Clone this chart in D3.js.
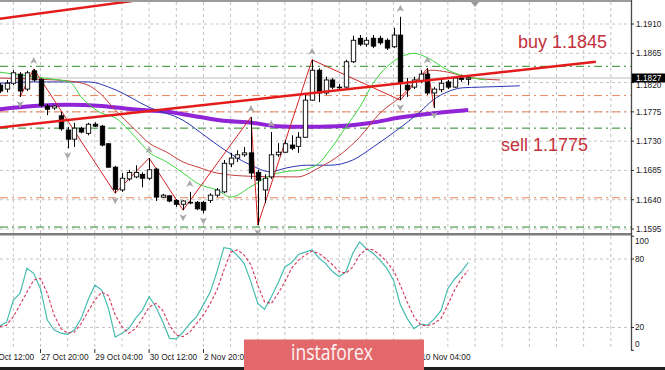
<!DOCTYPE html>
<html>
<head>
<meta charset="utf-8">
<script src="https://cdn.jsdelivr.net/npm/d3@7"></script>
<style>
  body { margin: 0; background: #fff; }
  svg { display: block; font-family: "Liberation Sans", Arial, sans-serif; }
</style>
</head>
<body>
<script>
// H4 bars, bar 0 = 27 Oct 20:00
const FIRST_BAR = -6;

const candleOpen = [1.1816, 1.1810, 1.1819, 1.1833, 1.1810, 1.1838, 1.1825, 1.1784, 1.1781, 1.1769,
  1.1747, 1.1733, 1.1750, 1.1742, 1.1756, 1.1753, 1.1726, 1.1690, 1.1655, 1.1672,
  1.1675, 1.1679, 1.1673, 1.1687, 1.1644, 1.1646, 1.1639, 1.1633, 1.1636, 1.1636,
  1.1636, 1.1639, 1.1647, 1.1652, 1.1695, 1.1704, 1.1709, 1.1712, 1.1682, 1.1655,
  1.1675, 1.1709, 1.1713, 1.1724, 1.1722, 1.1736, 1.1793, 1.1839, 1.1804, 1.1824,
  1.1812, 1.1813, 1.1852, 1.1888, 1.1879, 1.1888, 1.1888, 1.1885, 1.1875, 1.1893,
  1.1816, 1.1813, 1.1822, 1.1833, 1.1804, 1.1809, 1.1821, 1.1813, 1.1827, 1.1825];
const candleHigh = [1.1819, 1.1824, 1.1839, 1.1836, 1.1838, 1.1841, 1.1827, 1.1787, 1.1785, 1.1775,
  1.1752, 1.1758, 1.1752, 1.1758, 1.1759, 1.1755, 1.1727, 1.1692, 1.1681, 1.1686,
  1.1693, 1.1682, 1.1704, 1.1689, 1.1649, 1.1647, 1.1641, 1.1639, 1.1652, 1.1638,
  1.1638, 1.1650, 1.1658, 1.1701, 1.1712, 1.1716, 1.1721, 1.1767, 1.1686, 1.1679,
  1.1744, 1.1727, 1.1732, 1.1739, 1.1744, 1.1801, 1.1855, 1.1842, 1.1829, 1.1827,
  1.1818, 1.1855, 1.1892, 1.1893, 1.1890, 1.1893, 1.1892, 1.1888, 1.1904, 1.1921,
  1.1827, 1.1829, 1.1839, 1.1842, 1.1813, 1.1824, 1.1824, 1.1829, 1.1832, 1.1829];
const candleLow = [1.1804, 1.1805, 1.1816, 1.1798, 1.1807, 1.1821, 1.1782, 1.1770, 1.1778, 1.1746,
  1.1719, 1.1721, 1.1742, 1.1739, 1.1752, 1.1722, 1.1689, 1.1650, 1.1652, 1.1669,
  1.1673, 1.1659, 1.1670, 1.1638, 1.1643, 1.1636, 1.1629, 1.1624, 1.1633, 1.1624,
  1.1619, 1.1635, 1.1644, 1.1650, 1.1690, 1.1698, 1.1706, 1.1672, 1.1601, 1.1635,
  1.1672, 1.1706, 1.1712, 1.1716, 1.1712, 1.1735, 1.1792, 1.1790, 1.1801, 1.1810,
  1.1809, 1.1812, 1.1850, 1.1876, 1.1875, 1.1873, 1.1878, 1.1870, 1.1873, 1.1793,
  1.1798, 1.1810, 1.1819, 1.1801, 1.1781, 1.1805, 1.1810, 1.1812, 1.1821, 1.1816];
const candleClose = [1.1807, 1.1819, 1.1835, 1.1807, 1.1835, 1.1824, 1.1785, 1.1779, 1.1784, 1.1749,
  1.1733, 1.1750, 1.1744, 1.1756, 1.1753, 1.1724, 1.1690, 1.1656, 1.1673, 1.1682,
  1.1682, 1.1673, 1.1686, 1.1644, 1.1647, 1.1638, 1.1633, 1.1638, 1.1635, 1.1626,
  1.1624, 1.1647, 1.1655, 1.1696, 1.1704, 1.1709, 1.1712, 1.1681, 1.1670, 1.1673,
  1.1709, 1.1713, 1.1726, 1.1719, 1.1736, 1.1793, 1.1839, 1.1804, 1.1824, 1.1813,
  1.1813, 1.1852, 1.1885, 1.1879, 1.1885, 1.1876, 1.1881, 1.1873, 1.1893, 1.1819,
  1.1809, 1.1824, 1.1833, 1.1804, 1.1810, 1.1819, 1.1813, 1.1827, 1.1825, 1.1827];

// moving averages as [bar, price]
const maGreen = [[-6, 1.1836], [-1, 1.1829], [2, 1.1825], [4.3, 1.1821], [6, 1.1798], [9, 1.1773],
  [11, 1.1766], [13, 1.1747], [15, 1.1724], [16, 1.1713], [18.6, 1.1698], [21, 1.1681],
  [23.5, 1.1663], [26, 1.1655], [28, 1.1644], [31, 1.1660], [34, 1.1678], [36, 1.1683],
  [38.7, 1.1686], [41, 1.1696], [42.6, 1.1716], [45, 1.1752], [47, 1.1782], [49, 1.1819],
  [51, 1.1844], [53, 1.1859], [55, 1.1865], [57, 1.1858], [60, 1.1839], [63.7, 1.1827], [65.7, 1.1824]];
const maRed = [[-6, 1.1827], [0, 1.1825], [4.5, 1.1822], [7, 1.1816], [8.7, 1.1804], [11, 1.1778],
  [13.7, 1.1750], [16, 1.1727], [18.6, 1.1713], [21, 1.1698], [23.5, 1.1689], [26, 1.1681],
  [31, 1.1676], [37.8, 1.1675], [41, 1.1689], [44.5, 1.1712], [47, 1.1736], [50, 1.1773],
  [53, 1.1798], [55.5, 1.1824], [57.5, 1.1839], [60, 1.1836], [63, 1.1828], [67.7, 1.1824]];
const maBlue = [[-6, 1.1819], [-1, 1.1821], [7, 1.1821], [11, 1.1809], [16, 1.1782], [21, 1.1762],
  [24.5, 1.1736], [26.5, 1.1721], [31, 1.1693], [33.8, 1.1683], [36.3, 1.1689], [39.2, 1.1693],
  [42.6, 1.1693], [46, 1.1701], [49, 1.1721], [52.5, 1.1747], [55.9, 1.1775], [57.8, 1.1793],
  [60, 1.1806], [62.2, 1.1812], [64.7, 1.1813], [70.6, 1.1815]];
const maPurple = [[-6, 1.1779], [-1, 1.1784], [4, 1.1786], [9, 1.1784], [13.6, 1.1779], [18.6, 1.1775],
  [23.5, 1.1767], [26.4, 1.1762], [31.3, 1.1758], [34.8, 1.1753], [38.7, 1.1752], [43.7, 1.1753],
  [48.5, 1.1758], [53.4, 1.1767], [58, 1.1773], [63, 1.1778]];

const zigzag = [[-3, 1.1798], [-1, 1.1841], [11, 1.1650], [16, 1.1704], [21, 1.1624], [31, 1.1767],
  [32, 1.1601], [40, 1.1855], [53, 1.1793], [57, 1.1842], [58, 1.1781]];

const trendLines = [
  [[-6, 1.1918], [14, 1.1946]],
  [[-6, 1.1751], [81.8, 1.1852]]
];

const fractalUp = [-1, 16, 22, 31, 34, 40, 53, 57];
const fractalDown = [-3, 4, 11, 21, 24, 32, 53, 58];

const greenLevels = [1.1845, 1.1750, 1.1598];
const orangeLevels = [1.1800, 1.1775, 1.1643];
const currentPrice = 1.1827;

const stochMain = [21.5, 24.5, 44, 50, 72, 67.5, 54, 26.5, 18, 15,
  14, 18, 28, 44, 57, 53, 37, 11.5, 15, 19,
  28, 35, 47, 38, 25, 10.5, 10, 16, 23.5, 29.5,
  40, 51, 69, 90, 89, 83, 76, 60, 41, 36,
  47, 59, 73, 77, 84, 86, 88, 81, 76, 69,
  64.5, 69, 85, 95, 89, 85, 79, 72, 61.5, 40,
  28, 19, 23, 22, 27.5, 35, 54, 62.5, 69, 77];
const stochSignal = [20.7, 22, 29.5, 40, 51, 61.5, 63, 50, 31, 19,
  15, 16, 23.5, 34, 44, 51, 48, 31, 20.7, 15,
  19, 28, 38, 41, 35, 22, 13.4, 12, 16, 23.5,
  31, 41, 53, 70, 86, 88, 83.5, 75, 57, 42.5,
  41, 50, 60, 72, 79, 83.5, 87, 85, 80.5, 75,
  69, 67.5, 73, 83.5, 88.7, 88, 83.5, 77.6, 70, 57,
  42.5, 29.5, 22, 21.5, 23.5, 28, 40, 53, 63, 70];

const priceTicks = [1.1595, 1.1640, 1.1685, 1.1730, 1.1775, 1.1820, 1.1865, 1.1910];
const stochTicks = [100, 80, 20, 0];
const stochGrid = [80, 20];
const timeTickBars = [-8, 0, 8, 16, 24, 32, 40, 48, 56];
const timeLabels = ["26 Oct 12:00", "27 Oct 20:00", "29 Oct 04:00", "30 Oct 12:00", "2 Nov 20:00",
  "4 Nov 04:00", "5 Nov 12:00", "6 Nov 20:00", "10 Nov 04:00"];
const noteLabels = ["buy 1.1845", "sell 1.1775"];

let WIDTH = 665,
    HEIGHT = 370;

let plot = { left: 0, right: 631, top: 2, mainBottom: 233, stochTop: 236, stochBottom: 350 };
let logo = { x: 244, y: 339.5, w: 180, h: 31 };

let svg = d3.select("body").append("svg")
  .attr("width", WIDTH)
  .attr("height", HEIGHT);

svg.append("rect")
  .attr("width", WIDTH)
  .attr("height", HEIGHT)
  .attr("fill", "#fff");

let x = d3.scaleLinear().domain([0, 56]).range([40.5, 420.7]);
let y = d3.scaleLinear().domain([1.1595, 1.1910]).range([229, 24]);
let yS = d3.scaleLinear().domain([0, 100]).range([350.3, 236.2]);

let bars = d3.range(FIRST_BAR, FIRST_BAR + candleOpen.length);
let candles = bars.map((b, k) => ({
  bar: b, o: candleOpen[k], h: candleHigh[k], l: candleLow[k], c: candleClose[k]
}));

let defs = svg.append("defs");
defs.append("clipPath").attr("id", "clipMain")
  .append("rect")
  .attr("x", plot.left).attr("y", plot.top)
  .attr("width", plot.right - plot.left).attr("height", plot.mainBottom - plot.top);
defs.append("clipPath").attr("id", "clipStoch")
  .append("rect")
  .attr("x", plot.left).attr("y", plot.stochTop)
  .attr("width", plot.right - plot.left).attr("height", plot.stochBottom - plot.stochTop);

let main = svg.append("g").attr("clip-path", "url(#clipMain)");
let stoch = svg.append("g").attr("clip-path", "url(#clipStoch)");

/*
  Grid
*/
let gridBars = d3.range(-4, 90, 4).filter(b => x(b) < plot.right);

[[main, plot.top, plot.mainBottom], [stoch, plot.stochTop, plot.stochBottom]].forEach(([g, y0, y1]) => {
  g.selectAll(".vgrid")
    .data(gridBars)
  .enter().append("line")
    .attr("class", "vgrid")
    .attr("x1", d => x(d)).attr("x2", d => x(d))
    .attr("y1", y0).attr("y2", y1)
    .attr("stroke", "#c4c4c4")
    .attr("stroke-dasharray", "3,3");
});

main.selectAll(".hgrid")
  .data(priceTicks)
.enter().append("line")
  .attr("class", "hgrid")
  .attr("x1", plot.left).attr("x2", plot.right)
  .attr("y1", d => y(d)).attr("y2", d => y(d))
  .attr("stroke", "#c4c4c4")
  .attr("stroke-dasharray", "3,3");

stoch.selectAll(".sgrid")
  .data(stochGrid)
.enter().append("line")
  .attr("class", "sgrid")
  .attr("x1", plot.left).attr("x2", plot.right)
  .attr("y1", d => yS(d)).attr("y2", d => yS(d))
  .attr("stroke", "#c4c4c4")
  .attr("stroke-dasharray", "3,3");

// support / resistance levels
main.selectAll(".glevel")
  .data(greenLevels)
.enter().append("line")
  .attr("x1", plot.left).attr("x2", plot.right)
  .attr("y1", d => y(d)).attr("y2", d => y(d))
  .attr("stroke", "#2a8a2a")
  .attr("stroke-dasharray", "8,4,2,4");

main.selectAll(".olevel")
  .data(orangeLevels)
.enter().append("line")
  .attr("x1", plot.left).attr("x2", plot.right)
  .attr("y1", d => y(d)).attr("y2", d => y(d))
  .attr("stroke", "#e8845a")
  .attr("stroke-dasharray", "8,4,2,4");

main.append("line")
  .attr("x1", plot.left).attr("x2", plot.right)
  .attr("y1", y(currentPrice)).attr("y2", y(currentPrice))
  .attr("stroke", "#bdbdbd");

/*
  Moving averages
*/
let maLine = d3.line()
  .x(d => x(d[0]))
  .y(d => y(d[1]))
  .curve(d3.curveMonotoneX);

main.append("path").datum(maPurple)
  .attr("d", maLine).attr("fill", "none")
  .attr("stroke", "#9024d6").attr("stroke-width", 4);
main.append("path").datum(maBlue)
  .attr("d", maLine).attr("fill", "none")
  .attr("stroke", "#2a35b0").attr("stroke-width", 1);
main.append("path").datum(maRed)
  .attr("d", maLine).attr("fill", "none")
  .attr("stroke", "#c83c3c").attr("stroke-width", 1);
main.append("path").datum(maGreen)
  .attr("d", maLine).attr("fill", "none")
  .attr("stroke", "#3cd63c").attr("stroke-width", 1);

main.append("path").datum(zigzag)
  .attr("d", d3.line().x(d => x(d[0])).y(d => y(d[1])))
  .attr("fill", "none")
  .attr("stroke", "#d42424").attr("stroke-width", 1);

/*
  Candles
*/
let bodyW = 4.4;

let cg = main.selectAll(".candle")
  .data(candles)
.enter().append("g")
  .attr("class", "candle");

cg.append("line")
  .attr("x1", d => Math.round(x(d.bar)) + 0.5).attr("x2", d => Math.round(x(d.bar)) + 0.5)
  .attr("y1", d => y(d.h)).attr("y2", d => y(d.l))
  .attr("stroke", "#000");

cg.append("rect")
  .attr("x", d => Math.round(x(d.bar)) + 0.5 - bodyW / 2)
  .attr("y", d => y(Math.max(d.o, d.c)))
  .attr("width", bodyW)
  .attr("height", d => Math.max(0.6, Math.abs(y(d.o) - y(d.c))))
  .attr("fill", d => d.c >= d.o ? "#fff" : "#000")
  .attr("stroke", "#000")
  .attr("stroke-width", 0.9);

// fractal arrows
let arrowUp = "M0,-4 L3.6,3 L0,1.2 L-3.6,3 Z";
let arrowDown = "M0,4 L3.6,-3 L0,-1.2 L-3.6,-3 Z";

main.selectAll(".fup")
  .data(fractalUp)
.enter().append("path")
  .attr("d", arrowUp)
  .attr("transform", b => "translate(" + x(b) + "," + (y(candleHigh[b - FIRST_BAR]) - 8) + ")")
  .attr("fill", "#a9a9a9");

main.selectAll(".fdown")
  .data(fractalDown)
.enter().append("path")
  .attr("d", arrowDown)
  .attr("transform", b => "translate(" + x(b) + "," + (y(candleLow[b - FIRST_BAR]) + 7) + ")")
  .attr("fill", "#a9a9a9");

// trend lines on top
main.selectAll(".trend")
  .data(trendLines)
.enter().append("line")
  .attr("x1", d => x(d[0][0])).attr("y1", d => y(d[0][1]))
  .attr("x2", d => x(d[1][0])).attr("y2", d => y(d[1][1]))
  .attr("stroke", "#e31b1b")
  .attr("stroke-width", 2.4);

// chart shift marker
svg.append("path")
  .attr("d", "M-4,2 L4,2 L0,7 Z")
  .attr("transform", "translate(" + x(FIRST_BAR + candleOpen.length) + ",0)")
  .attr("fill", "#9a9a9a");

/*
  Stochastic
*/
let stLine = d3.line()
  .x((d, i) => x(FIRST_BAR + i))
  .y(d => yS(d));

stoch.append("path").datum(stochMain)
  .attr("d", stLine).attr("fill", "none")
  .attr("stroke", "#46bdb0").attr("stroke-width", 1.2);

stoch.append("path").datum(stochSignal)
  .attr("d", stLine).attr("fill", "none")
  .attr("stroke", "#d6365a").attr("stroke-width", 1.1)
  .attr("stroke-dasharray", "3,2");

/*
  Frame and axes
*/
svg.append("rect")
  .attr("x", 0).attr("y", 0).attr("width", plot.right).attr("height", 2)
  .attr("fill", "#9b9b9b");
svg.append("rect")
  .attr("x", 0).attr("y", plot.mainBottom).attr("width", plot.right).attr("height", 2.5)
  .attr("fill", "#7d7d7d");
svg.append("line")
  .attr("x1", plot.right + 0.5).attr("x2", plot.right + 0.5)
  .attr("y1", 0).attr("y2", plot.stochBottom)
  .attr("stroke", "#4a4a4a").attr("stroke-width", 1.3);

let axisFont = 8.3;

svg.selectAll(".ptick")
  .data(priceTicks)
.enter().append("line")
  .attr("x1", plot.right).attr("x2", plot.right + 3)
  .attr("y1", d => y(d)).attr("y2", d => y(d))
  .attr("stroke", "#333");

// the tick right under the price tag is mostly hidden, as in the terminal
svg.selectAll(".plabel")
  .data(priceTicks)
.enter().append("text")
  .attr("x", plot.right + 5)
  .attr("y", d => Math.abs(y(d) - y(currentPrice)) < 9 ? y(currentPrice) + 7 : y(d))
  .attr("dy", "0.35em")
  .attr("font-size", axisFont)
  .attr("fill", "#222")
  .text(d => d.toFixed(4));

svg.selectAll(".slabel")
  .data(stochTicks)
.enter().append("text")
  .attr("x", plot.right + 4)
  .attr("y", d => Math.min(plot.stochBottom - 6, Math.max(plot.stochTop + 5.5, yS(d))))
  .attr("dy", "0.35em")
  .attr("font-size", axisFont)
  .attr("fill", "#222")
  .text(d => d);

svg.selectAll(".stick")
  .data(stochTicks)
.enter().append("line")
  .attr("x1", plot.right).attr("x2", plot.right + 3)
  .attr("y1", d => yS(d)).attr("y2", d => yS(d))
  .attr("stroke", "#333");

svg.selectAll(".ttick")
  .data(timeTickBars)
.enter().append("line")
  .attr("x1", d => x(d)).attr("x2", d => x(d))
  .attr("y1", plot.stochBottom - 1).attr("y2", plot.stochBottom + 3)
  .attr("stroke", "#333");

// time labels; the ones fully under the watermark are not visible at all
let timeItems = timeTickBars.map((b, i) => ({ bar: b, label: timeLabels[i] }))
  .filter(d => !(x(d.bar) > logo.x && x(d.bar) + 44 < logo.x + logo.w));

svg.selectAll(".tlabel")
  .data(timeItems)
.enter().append("text")
  .attr("x", d => x(d.bar) + 0.5)
  .attr("y", plot.stochBottom + 10)
  .attr("font-size", axisFont)
  .attr("fill", "#222")
  .text(d => d.label);

// current price tag
svg.append("rect")
  .attr("x", plot.right + 1).attr("y", y(currentPrice) - 4.5)
  .attr("width", WIDTH - plot.right - 1).attr("height", 9)
  .attr("fill", "#000");
svg.append("text")
  .attr("x", plot.right + 5)
  .attr("y", y(currentPrice))
  .attr("dy", "0.35em")
  .attr("font-size", axisFont)
  .attr("fill", "#fff")
  .text(currentPrice.toFixed(4));

// annotations
svg.append("text")
  .attr("x", 518).attr("y", 48)
  .attr("font-size", 18)
  .attr("fill", "#c4303a")
  .text(noteLabels[0]);
svg.append("text")
  .attr("x", 501).attr("y", 151)
  .attr("font-size", 18)
  .attr("fill", "#c4303a")
  .text(noteLabels[1]);

// bottom window edge
svg.append("rect")
  .attr("x", 0).attr("y", 367).attr("width", WIDTH).attr("height", 3)
  .attr("fill", "#1e1e1e");

// watermark logo
svg.append("rect")
  .attr("x", logo.x).attr("y", logo.y)
  .attr("width", logo.w).attr("height", logo.h)
  .attr("fill", "#e2686b");
svg.append("text")
  .attr("x", 332).attr("y", 360)
  .attr("text-anchor", "middle")
  .attr("font-family", "'Open Sans', sans-serif")
  .attr("font-size", 22)
  .attr("textLength", 82)
  .attr("lengthAdjust", "spacingAndGlyphs")
  .attr("fill", "#fff5f5")
  .text("instaforex");
</script>
</body>
</html>
